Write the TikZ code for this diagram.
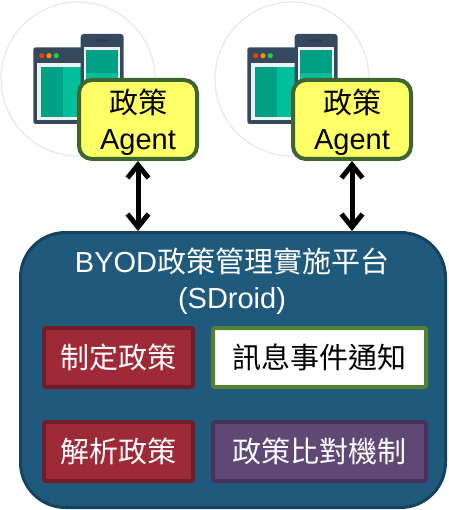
\documentclass[tikz,border=0pt]{standalone}
\usepackage{fontspec}
\setmainfont{Liberation Sans}
\newfontfamily\cjk{Noto Sans CJK TC}
\usetikzlibrary{arrows.meta}
\definecolor{platfill}{HTML}{1F5A7D}
\definecolor{platline}{HTML}{15435F}
\definecolor{agentfill}{HTML}{FFFF66}
\definecolor{agentline}{HTML}{3F6632}
\definecolor{redfill}{HTML}{9E2A38}
\definecolor{redline}{HTML}{741B28}
\definecolor{greenline}{HTML}{548235}
\definecolor{purfill}{HTML}{5F4876}
\definecolor{purline}{HTML}{47325A}
\definecolor{slate}{HTML}{34495E}
\definecolor{slatedark}{HTML}{2C3E50}
\definecolor{tealdark}{HTML}{00A085}
\definecolor{teallight}{HTML}{00BF9A}
\tikzset{
  txt/.style={font=\fontsize{29}{36}\selectfont, align=center, inner sep=0pt, outer sep=0pt},
  agent/.style={txt, draw=agentline, fill=agentfill, line width=4pt, rounded corners=13pt,
    minimum width=118pt, minimum height=79pt, text=black},
  inbox/.style={txt, line width=4pt, rounded corners=2pt, minimum width=149pt, minimum height=59pt},
  redbox/.style={inbox, draw=redline, fill=redfill, text=white},
  wide/.style={inbox, minimum width=213pt},
  link/.style={line width=5pt, black, {Straight Barb[length=13pt,width=21pt,line width=5pt]}-{Straight Barb[length=13pt,width=21pt,line width=5pt]}},
  pics/appicon/.style={code={
    \draw[draw=black!9, line width=1.2pt] (78,79) circle (77);
    \fill[slate, rounded corners=2.5pt] (33.3,47.3) rectangle (88,124);
    \fill[white!92!slate] (37.3,62.7) rectangle (85,120);
    \fill[tealdark] (40.7,66.7) rectangle (63.3,116.7);
    \fill[teallight] (63.3,66.7) rectangle (85,116.7);
    \fill[orange!60!red!90!black] (41.7,55.7) circle (2.6);
    \fill[orange!90!yellow] (49,55.7) circle (2.6);
    \fill[green!60!teal!90!white] (56.3,55.7) circle (2.6);
    \fill[slate, rounded corners=3pt] (80.7,34) rectangle (123.7,124);
    \fill[slatedark, rounded corners=1pt] (95,39.5) rectangle (108,42);
    \fill[white!92!slate] (84,46.7) rectangle (120,110);
    \fill[tealdark] (86,50) rectangle (117.7,73.3);
    \fill[teallight] (86,73.3) rectangle (117.7,110);
  }}
}
\begin{document}
\begin{tikzpicture}[x=1pt,y=-1pt]
\useasboundingbox (0,0) rectangle (448,510);
\pic at (0,0) {appicon};
\pic at (214,0) {appicon};
\node[agent] (agentA) at (138,119.5) {\rule{0pt}{31pt}{\cjk 政策}\\Agent};
\node[agent] (agentB) at (352,119.5) {\rule{0pt}{31pt}{\cjk 政策}\\Agent};
\node[draw=platline, fill=platfill, line width=3pt, rounded corners=45pt,
  minimum width=425pt, minimum height=275pt, inner sep=0pt, outer sep=0pt] (platform) at (233,370) {};
\node[txt, text=white] (title) at (232,281) {BYOD{\cjk 政策管理實施平台}\\(SDroid)};
\node[redbox] (define) at (118.5,357.5) {\cjk 制定政策};
\node[redbox] (parse) at (118.5,451.5) {\cjk 解析政策};
\node[inbox, wide, draw=greenline, fill=white, text=black] (notify) at (319.5,357.5) {\cjk 訊息事件通知};
\node[inbox, wide, draw=purline, fill=purfill, text=white] (compare) at (319.5,451.5) {\cjk 政策比對機制};
\draw[link] (agentA.south |- 0,161) -- (agentA.south |- 0,231);
\draw[link] (agentB.south |- 0,161) -- (agentB.south |- 0,231);
\end{tikzpicture}
\end{document}
